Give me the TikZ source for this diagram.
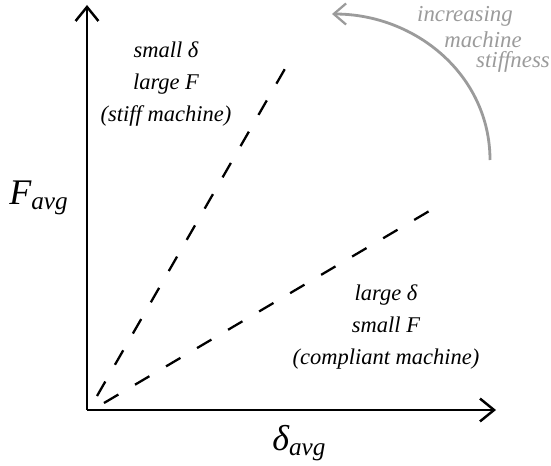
\documentclass[tikz,border=0pt]{standalone}
\usepackage{fontspec}
\setmainfont{Liberation Serif}[ItalicFont=Liberation Serif Italic]
\usetikzlibrary{arrows.meta}
\definecolor{arcgray}{RGB}{155,155,155}
\tikzset{
	axis/.style={line width=1.7pt,arrows={-Straight Barb[length=8pt,width=13pt,line width=1.4pt]}},
	ratio/.style={line width=1.3pt,dash pattern=on 9.5pt off 11pt},
	regime/.style={align=center,font=\fontsize{12.8}{18}\selectfont\itshape},
	hint/.style={text=arcgray,font=\fontsize{13}{13}\selectfont\itshape,inner sep=0pt},
	axlabel/.style={font=\fontsize{20.5}{20.5}\selectfont\itshape,inner sep=0pt,anchor=base west}
}
\begin{document}
\begin{tikzpicture}[x=0.02cm,y=-0.02cm]
	\useasboundingbox (0,0) rectangle (551,466);
	% axes
	\coordinate (o) at (87,410);
	\coordinate (ytop) at (87,5);
	\coordinate (xend) at (496,410);
	\draw[axis] (o) -- (ytop);
	\draw[axis] (o) -- (xend);
	\node[axlabel] (favg) at (9,204) {F\textsubscript{avg}};
	\node[axlabel] (davg) at (272,450) {δ\textsubscript{avg}};

	% stiff and compliant lines
	\coordinate (s0) at (97,396);
	\coordinate (s1) at (286,67);
	\coordinate (c0) at (104,403);
	\coordinate (c1) at (431,210);
	\draw[ratio] (s0) -- (s1);
	\draw[ratio] (c0) -- (c1);
	\node[regime] (stiff) at (166,84) {small δ\\ large F\\ (stiff machine)};
	\node[regime] (compl) at (386,327) {large δ\\ small F\\ (compliant machine)};

	% direction of increasing stiffness
	\coordinate (a0) at (490,160);
	\coordinate (a1) at (332,14);
	\draw[line width=1.6pt,arcgray,arrows={-Straight Barb[length=7pt,width=12pt,line width=1.3pt]}]
		(a0) to [out=90,in=0] (a1);
	\node[hint] (inc) at (465,16) {increasing};
	\node[hint] (mach) at (483,40) {machine};
	\node[hint] (stf) at (513,62) {stiffness};
\end{tikzpicture}
\end{document}
